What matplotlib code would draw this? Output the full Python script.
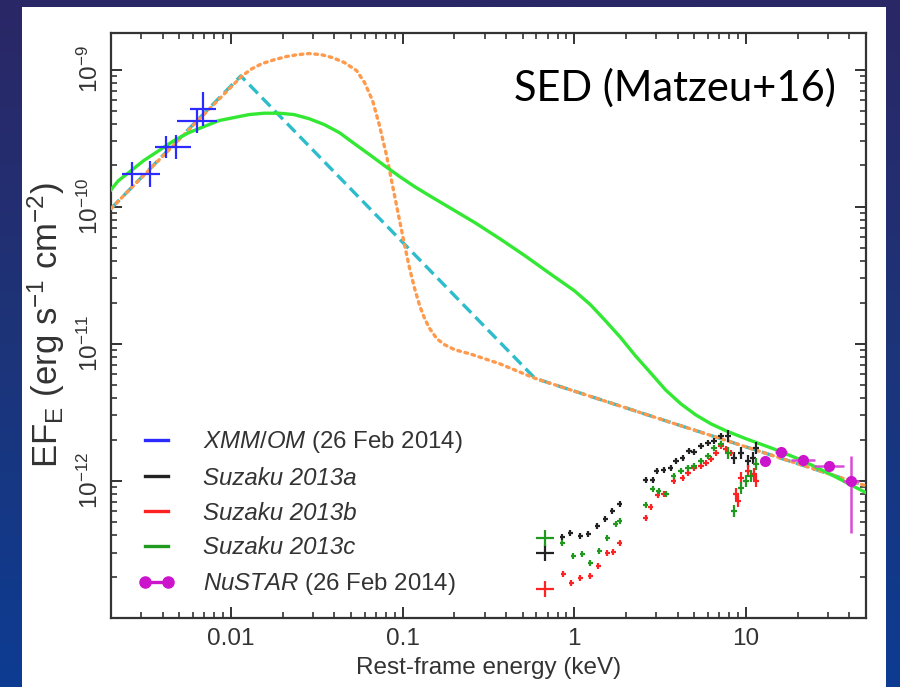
import numpy as np
import matplotlib
matplotlib.use("Agg")
import matplotlib.pyplot as plt
from matplotlib.lines import Line2D
from matplotlib.patches import Rectangle
from matplotlib.colors import LinearSegmentedColormap
from matplotlib.ticker import FixedLocator, FixedFormatter, LogLocator, NullFormatter

plt.rcParams['font.family'] = ['Liberation Sans', 'DejaVu Sans']
plt.rcParams['mathtext.fontset'] = 'custom'
plt.rcParams['mathtext.rm'] = 'Liberation Sans'
plt.rcParams['mathtext.it'] = 'Liberation Sans:italic'
plt.rcParams['mathtext.bf'] = 'Liberation Sans:bold'

# ---------------- model curves (keV, erg s^-1 cm^-2) ----------------
bpl_e = [0.002, 0.0114, 0.59, 50.0]
bpl_f = [9.7e-11, 9.0e-10, 5.6e-12, 9.2e-13]

disc_e = [0.002, 0.0116, 0.01327, 0.01518, 0.01782, 0.0210, 0.0243, 0.0286, 0.0336, 0.0390,
          0.0458, 0.0539, 0.0600, 0.0668, 0.0733, 0.0806, 0.0885, 0.0960, 0.1028, 0.1099,
          0.1175, 0.1257, 0.1345, 0.1438, 0.158, 0.176, 0.2014, 0.2466, 0.369, 0.59, 50.0]
disc_f = [9.7e-11, 9.0e-10, 1.017e-9, 1.107e-9, 1.18e-9, 1.245e-9, 1.285e-9, 1.31e-9, 1.285e-9,
          1.224e-9, 1.125e-9, 9.84e-10, 8.04e-10, 5.94e-10, 3.90e-10, 2.36e-10, 1.31e-10, 7.91e-11,
          5.19e-11, 3.52e-11, 2.52e-11, 1.89e-11, 1.52e-11, 1.29e-11, 1.09e-11, 9.83e-12, 9.04e-12,
          8.45e-12, 7.14e-12, 5.6e-12, 9.2e-13]

comp_e = [0.002, 0.00221, 0.00253, 0.00310, 0.00379, 0.00464, 0.00568, 0.00695, 0.00851,
          0.01042, 0.01274, 0.01560, 0.0191, 0.0233, 0.0286, 0.0350, 0.0428, 0.0524, 0.0641,
          0.0785, 0.0960, 0.1175, 0.1438, 0.188, 0.264, 0.369, 0.517, 0.724, 1.0, 1.24, 1.52,
          1.86, 2.27, 2.78, 3.40, 4.17, 5.10, 6.24, 7.64, 10.0, 14.0, 21.0, 31.4, 50.0]
comp_f = [1.33e-10, 1.55e-10, 1.77e-10, 2.17e-10, 2.56e-10, 3.03e-10, 3.47e-10, 3.84e-10,
          4.25e-10, 4.47e-10, 4.70e-10, 4.81e-10, 4.81e-10, 4.70e-10, 4.38e-10, 3.97e-10,
          3.47e-10, 2.88e-10, 2.40e-10, 1.99e-10, 1.66e-10, 1.40e-10, 1.20e-10, 9.84e-11,
          7.64e-11, 5.83e-11, 4.38e-11, 3.24e-11, 2.44e-11, 1.93e-11, 1.47e-11, 1.11e-11,
          8.17e-12, 6.14e-12, 4.61e-12, 3.65e-12, 3.03e-12, 2.61e-12, 2.32e-12, 2.03e-12,
          1.74e-12, 1.42e-12, 1.11e-12, 8.2e-13]

# ---------------- XMM/OM photometry ----------------
om_e = [0.00264, 0.00336, 0.00417, 0.00477, 0.00633, 0.00686]
om_f = [1.74e-10, 1.74e-10, 2.74e-10, 2.74e-10, 4.25e-10, 5.19e-10]
om_xerr_dex = [0.058, 0.058, 0.064, 0.088, 0.117, 0.076]
om_yerr_dex = [0.088, 0.095, 0.080, 0.088, 0.088, 0.124]

# ---------------- Suzaku spectra ----------------
suz_a_e = [0.677, 0.851, 0.948, 1.084, 1.208, 1.364, 1.518, 1.668, 1.834, 2.60, 2.86, 3.02,
           3.31, 3.64, 3.90, 4.28, 4.64, 4.97, 5.46, 6.00, 6.50, 7.14, 7.85, 8.51, 9.35,
           10.3, 11.0, 11.4]
suz_a_f = [2.98e-13, 3.90e-13, 4.17e-13, 3.97e-13, 4.10e-13, 4.69e-13, 5.28e-13, 6.04e-13,
           6.79e-13, 1.02e-12, 1.02e-12, 1.18e-12, 1.20e-12, 1.24e-12, 1.40e-12, 1.47e-12,
           1.66e-12, 1.63e-12, 1.80e-12, 1.89e-12, 1.96e-12, 2.13e-12, 2.13e-12, 1.47e-12,
           1.60e-12, 1.40e-12, 1.47e-12, 1.74e-12]

suz_b_e = [0.677, 0.862, 0.960, 1.084, 1.241, 1.381, 1.560, 1.690, 1.834, 2.60, 2.78, 3.06,
           3.31, 3.79, 4.28, 4.58, 4.97, 5.46, 5.83, 6.24, 6.68, 7.14, 7.64, 8.17, 8.74,
           8.98, 9.35, 10.3, 11.1, 11.4]
suz_b_f = [1.63e-13, 2.10e-13, 1.80e-13, 1.96e-13, 2.03e-13, 2.40e-13, 2.98e-13, 3.03e-13,
           3.53e-13, 5.37e-13, 6.46e-13, 7.90e-13, 8.03e-13, 1.00e-12, 1.05e-12, 1.14e-12,
           1.24e-12, 1.29e-12, 1.35e-12, 1.45e-12, 1.60e-12, 1.80e-12, 1.71e-12, 1.60e-12,
           8.03e-13, 7.14e-13, 1.05e-12, 1.18e-12, 1.12e-12, 1.00e-12]

suz_c_e = [0.677, 0.851, 0.987, 1.114, 1.241, 1.400, 1.560, 1.738, 1.834, 2.60, 2.86, 3.10,
           3.41, 3.79, 4.17, 4.58, 4.97, 5.46, 6.00, 6.50, 7.14, 7.85, 8.51, 9.35, 10.0,
           10.7, 11.4]
suz_c_f = [3.84e-13, 3.53e-13, 2.84e-13, 2.93e-13, 2.52e-13, 3.08e-13, 3.84e-13, 4.85e-13,
           5.10e-13, 6.68e-13, 8.75e-13, 8.45e-13, 8.03e-13, 1.09e-12, 1.18e-12, 1.24e-12,
           1.29e-12, 1.40e-12, 1.52e-12, 1.74e-12, 1.86e-12, 1.60e-12, 6.04e-13, 8.89e-13,
           1.00e-12, 1.09e-12, 1.33e-12]

# ---------------- NuSTAR ----------------
nu_e = [12.9, 16.0, 21.5, 30.5, 41.1]
nu_f = [1.40e-12, 1.63e-12, 1.42e-12, 1.29e-12, 1.00e-12]
nu_xerr_dex = [0.030, 0.035, 0.070, 0.088, 0.047]
nu_yerr_lo = [1.30e-12, 1.52e-12, 1.33e-12, 1.20e-12, 4.17e-13]
nu_yerr_hi = [1.50e-12, 1.74e-12, 1.52e-12, 1.39e-12, 1.52e-12]

x_ticks = [0.01, 0.1, 1, 10]
x_tick_labels = ['0.01', '0.1', '1', '10']
y_ticks = [1e-12, 1e-11, 1e-10, 1e-9]
y_tick_labels = [r'$10^{-12}$', r'$10^{-11}$', r'$10^{-10}$', r'$10^{-9}$']

legend_labels = [r'$\mathit{XMM/OM}$ (26 Feb 2014)', 'Suzaku 2013a', 'Suzaku 2013b',
                 'Suzaku 2013c', r'$\mathit{NuSTAR}$ (26 Feb 2014)']

C_OM = '#2b2bff'
C_A = '#222222'
C_B = '#ff2222'
C_C = '#1f9a1f'
C_NU = '#cc14cc'
C_COMP = '#33e833'
C_BPL = '#2dbccb'
C_DISC = '#ff9a4d'
C_TXT = '#333333'


def dex_err(v, d):
    v = np.asarray(v, float)
    d = np.asarray(d, float)
    return np.vstack([v - v / 10 ** d, v * 10 ** d - v])


W, H = 900, 687
fig = plt.figure(figsize=(W / 100, H / 100), dpi=100)

# slide background with the white panel on top
bg = fig.add_axes([0, 0, 1, 1], zorder=-5)
bg.set_xlim(0, W)
bg.set_ylim(H, 0)
bg.axis('off')
cmap = LinearSegmentedColormap.from_list('slide', ['#2a2766', '#1d3479', '#0d3c92'])
grad = np.linspace(0, 1, 256)[:, None]
bg.imshow(grad, cmap=cmap, extent=[0, W, H, 0], aspect='auto')
bg.add_patch(Rectangle((22, 7), 864, 690, facecolor='white', edgecolor='none'))

ax = fig.add_axes([111 / W, 1 - 618 / H, (866 - 111) / W, (618 - 33) / H])
ax.set_facecolor('white')
ax.set_xscale('log')
ax.set_yscale('log')

# models
ax.plot(bpl_e, bpl_f, color=C_BPL, lw=2.4, dashes=(3.6, 1.8), zorder=2)
ax.plot(disc_e, disc_f, color=C_DISC, lw=2.4, linestyle=(0, (0.8, 1.4)),
        dash_capstyle='round', zorder=3)
ax.plot(comp_e, comp_f, color=C_COMP, lw=2.4, zorder=4)

# XMM/OM
ax.errorbar(om_e, om_f, xerr=dex_err(om_e, om_xerr_dex), yerr=dex_err(om_f, om_yerr_dex),
            fmt='none', ecolor=C_OM, elinewidth=1.6, capsize=0, zorder=5)

# Suzaku
for e, f, c in [(suz_a_e, suz_a_f, C_A), (suz_b_e, suz_b_f, C_B), (suz_c_e, suz_c_f, C_C)]:
    n = len(e)
    xd = np.full(n, 0.016)
    yd = np.full(n, 0.022)
    xd[0] = 0.052
    yd[0] = 0.060
    yd[-6:] = 0.045
    ax.errorbar(e, f, xerr=dex_err(e, xd), yerr=dex_err(f, yd), fmt='none',
                ecolor=c, elinewidth=1.6, capsize=0, zorder=5)

# NuSTAR
nu_yerr = np.vstack([np.array(nu_f) - np.array(nu_yerr_lo), np.array(nu_yerr_hi) - np.array(nu_f)])
ax.errorbar(nu_e, nu_f, xerr=dex_err(nu_e, nu_xerr_dex), yerr=nu_yerr, fmt='o', color=C_NU,
            ms=7, mec=C_NU, ecolor='#d84ad8', elinewidth=1.8, capsize=0, zorder=6)

ax.set_xlim(0.002, 50)
ax.set_ylim(1e-13, 1.85e-9)

ax.xaxis.set_major_locator(FixedLocator(x_ticks))
ax.xaxis.set_major_formatter(FixedFormatter(x_tick_labels))
ax.xaxis.set_minor_locator(LogLocator(base=10, subs=np.arange(2, 10), numticks=50))
ax.xaxis.set_minor_formatter(NullFormatter())
ax.yaxis.set_major_locator(FixedLocator(y_ticks))
ax.yaxis.set_major_formatter(FixedFormatter(y_tick_labels))
ax.yaxis.set_minor_locator(LogLocator(base=10, subs=np.arange(2, 10), numticks=50))
ax.yaxis.set_minor_formatter(NullFormatter())

ax.tick_params(which='both', direction='in', top=True, right=True, color=C_TXT)
ax.tick_params(which='major', length=8, width=1.4, labelsize=17.5, labelcolor=C_TXT)
ax.tick_params(which='minor', length=4.5, width=1.2)
ax.tick_params(axis='x', which='major', pad=7)
ax.tick_params(axis='y', which='major', pad=6, labelrotation=90)
for lab in ax.get_yticklabels():
    lab.set_va('center')
for s in ax.spines.values():
    s.set_linewidth(1.6)
    s.set_color(C_TXT)

ax.set_xlabel('Rest-frame energy (keV)', fontsize=17.5, color=C_TXT)
ax.xaxis.set_label_coords(0.5, (618 - 657) / 585)
ax.set_ylabel(r'EF$_\mathrm{E}$ (erg s$^{-1}$ cm$^{-2}$)', fontsize=25, color=C_TXT)
ax.yaxis.set_label_coords((67 - 111) / 755, 0.5)

handles = [Line2D([], [], color=C_OM, lw=2.4),
           Line2D([], [], color=C_A, lw=2.4),
           Line2D([], [], color=C_B, lw=2.4),
           Line2D([], [], color=C_C, lw=2.4),
           Line2D([], [], color=C_NU, lw=2.4, marker='o', ms=8)]
leg = ax.legend(handles, legend_labels, loc='upper left',
                bbox_to_anchor=((138 - 111) / 755, (618 - 429) / 585),
                frameon=False, fontsize=17.3, handlelength=1.55, handletextpad=1.15,
                labelspacing=0.49, borderpad=0, borderaxespad=0, numpoints=2)
for i, t in enumerate(leg.get_texts()):
    t.set_color(C_TXT)
    if 1 <= i <= 3:
        t.set_fontstyle('italic')

fig.text(836 / W, 1 - 101 / H, 'SED (Matzeu+16)', ha='right', va='baseline',
         fontsize=30, family=['Lato', 'DejaVu Sans'], color='black')

fig.savefig('out.png', dpi=100)
